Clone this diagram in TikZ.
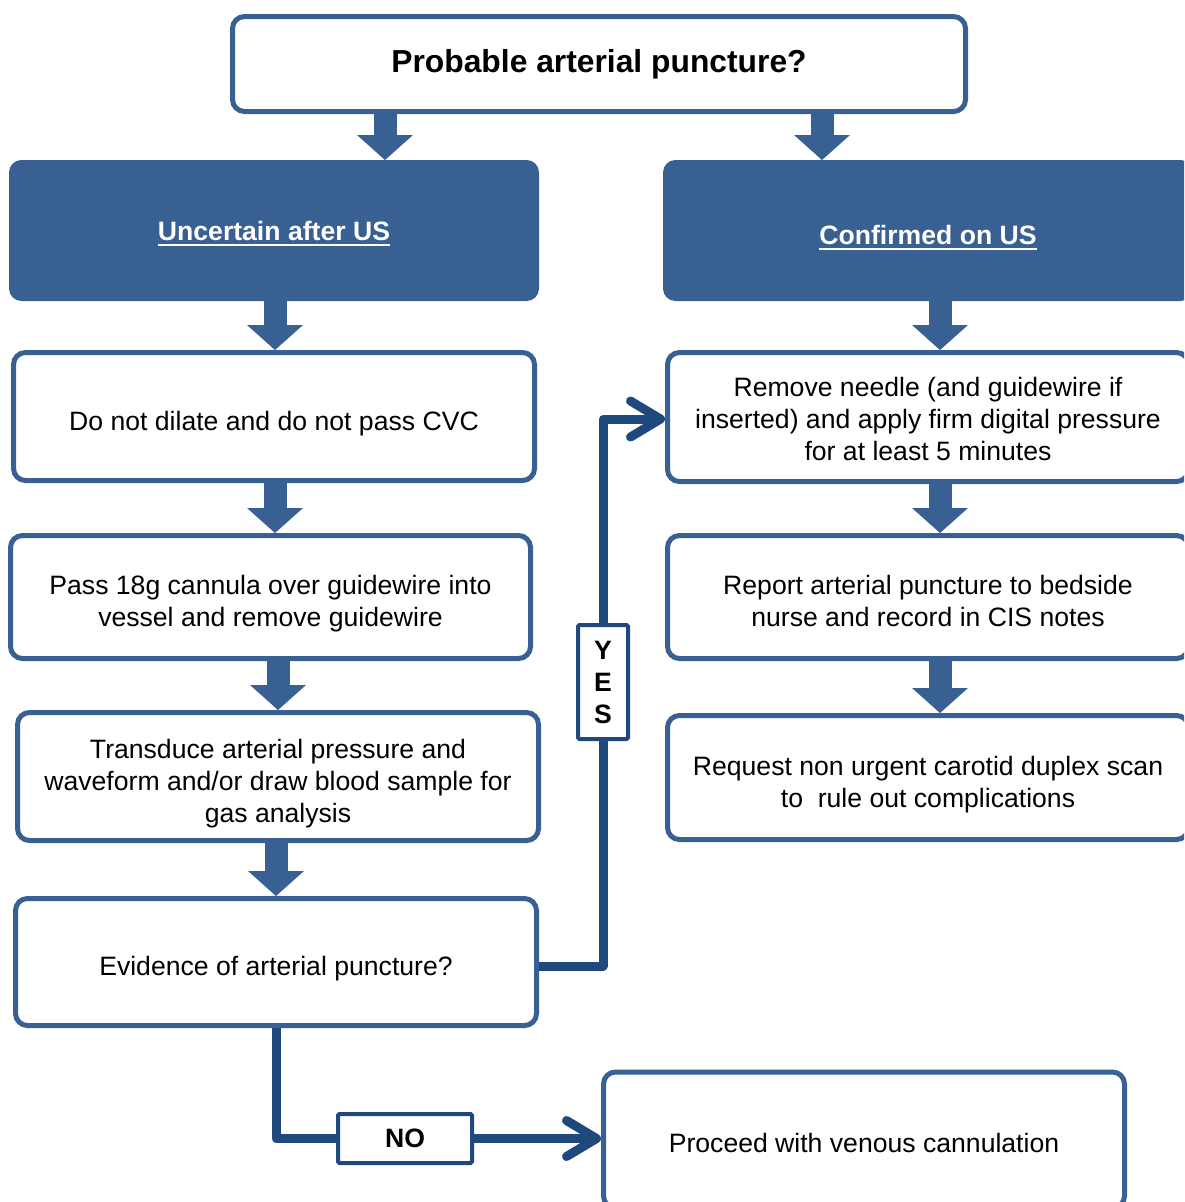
\documentclass[tikz,border=0pt]{standalone}
\usepackage{fontspec}
\setmainfont{Liberation Sans}
\usetikzlibrary{arrows.meta}
\definecolor{boxblue}{RGB}{56,96,146}
\definecolor{linenavy}{RGB}{31,73,125}
\newcommand\myul[1]{\leavevmode\vtop{\hbox{#1}\kern2.5pt\hrule height 2pt}}
\pgfdeclarelayer{bg}
\pgfsetlayers{bg,main}
\tikzset{
  wbox/.style={draw=boxblue, line width=5pt, rounded corners=12pt, fill=white, inner sep=0pt},
  dbox/.style={draw=boxblue, line width=1pt, rounded corners=12pt, fill=boxblue, inner sep=0pt},
  txt/.style={align=center, inner sep=0pt, font=\fontsize{26.6}{32}\selectfont},
  wtxt/.style={align=center, inner sep=0pt, text=white, font=\bfseries\fontsize{26.6}{32}\selectfont},
  lbl/.style={draw=linenavy, line width=4pt, rounded corners=1.5pt, fill=white,
    align=center, inner sep=0pt, font=\bfseries\fontsize{26.6}{32}\selectfont},
  blockarr/.style={draw=boxblue, line width=23pt,
    -{Triangle[width=56pt,length=25pt,line width=0pt]}},
  conn/.style={draw=linenavy, line width=9pt, line join=round},
  connarr/.style={conn, -{Straight Barb[length=30pt,width=36pt,round]}}
}
\begin{document}
\begin{tikzpicture}[x=1pt,y=-1pt]
\useasboundingbox (0,0) rectangle (1184,1202);
\clip (0,0) rectangle (1184,1202);
\begin{pgfonlayer}{bg}
\fill[white] (0,0) rectangle (1184,1202);
\end{pgfonlayer}

% boxes
\node[wbox, minimum width=733pt, minimum height=95pt] (top) at (599,64) {};
\node[txt, font=\bfseries\fontsize{31.8}{36}\selectfont] (topt) at ([yshift=0pt]top.center) {Probable arterial puncture?};

\node[dbox, minimum width=529pt, minimum height=140pt] (unc) at (274,230.5) {};
\node[wtxt] (unct) at ([yshift=-3pt]unc.center) {\myul{Uncertain after US}};
\node[dbox, minimum width=529pt, minimum height=140pt] (conf) at (928,230.5) {};
\node[wtxt] (conft) at ([yshift=-7pt]conf.center) {\myul{Confirmed on US}};

\node[wbox, minimum width=521pt, minimum height=128pt] (b1) at (274,416.5) {};
\node[txt] (b1t) at ([yshift=-7pt]b1.center) {Do not dilate and do not pass CVC};
\node[wbox, minimum width=520pt, minimum height=123pt] (b2) at (270.5,597) {};
\node[txt] (b2t) at ([yshift=-7pt]b2.center) {Pass 18g cannula over guidewire into\\vessel and remove guidewire};
\node[wbox, minimum width=521pt, minimum height=128pt] (b3) at (278,776.5) {};
\node[txt] (b3t) at ([yshift=-7pt]b3.center) {Transduce arterial pressure and\\waveform and/or draw blood sample for\\gas analysis};
\node[wbox, minimum width=521pt, minimum height=127pt] (b4) at (276,962) {};
\node[txt] (b4t) at ([yshift=-7pt]b4.center) {Evidence of arterial puncture?};

\node[wbox, minimum width=521pt, minimum height=129pt] (r1) at (928,417) {};
\node[txt] (r1t) at ([yshift=-2pt]r1.center) {Remove needle (and guidewire if\\inserted) and apply firm digital pressure\\for at least 5 minutes};
\node[wbox, minimum width=521pt, minimum height=123pt] (r2) at (928,597) {};
\node[txt] (r2t) at ([yshift=-4pt]r2.center) {Report arterial puncture to bedside\\nurse and record in CIS notes};
\node[wbox, minimum width=521pt, minimum height=124pt] (r3) at (928,777.5) {};
\node[txt] (r3t) at ([yshift=-7pt]r3.center) {Request non urgent carotid duplex scan\\to~ rule out complications};

\node[wbox, minimum width=521pt, minimum height=136pt] (proc) at (864,1140) {};
\node[txt] (proct) at ([yshift=-3pt]proc.center) {Proceed with venous cannulation};

% labels on connectors
\node[lbl, minimum width=50pt, minimum height=114pt] (yes) at (603,682) {Y\\E\\S};
\node[lbl, minimum width=134pt, minimum height=49pt] (no) at (405,1138.5) {NO};

% block arrows
\draw[blockarr] (top.south -| 385,0) -- (unc.north -| 385,0);
\draw[blockarr] (top.south -| 822,0) -- (conf.north -| 822,0);
\draw[blockarr] (unc.south -| 275,0) -- (b1.north -| 275,0);
\draw[blockarr] (b1.south -| 275,0) -- (b2.north -| 275,0);
\draw[blockarr] (b2.south -| 278,0) -- (b3.north -| 278,0);
\draw[blockarr] (b3.south -| 276,0) -- (b4.north -| 276,0);
\draw[blockarr] (conf.south -| 940,0) -- (r1.north -| 940,0);
\draw[blockarr] (r1.south -| 940,0) -- (r2.north -| 940,0);
\draw[blockarr] (r2.south -| 940,0) -- (r3.north -| 940,0);

% connectors
\begin{pgfonlayer}{bg}
\draw[conn] ([yshift=-4pt]b4.east) -| (yes.south);
\draw[connarr] (yes.north) |- ([yshift=-2pt]r1.west);
\draw[conn] (b4.south) |- (no.west);
\draw[connarr] (no.east) -- (no.east -| proc.west);
\end{pgfonlayer}
\end{tikzpicture}
\end{document}
